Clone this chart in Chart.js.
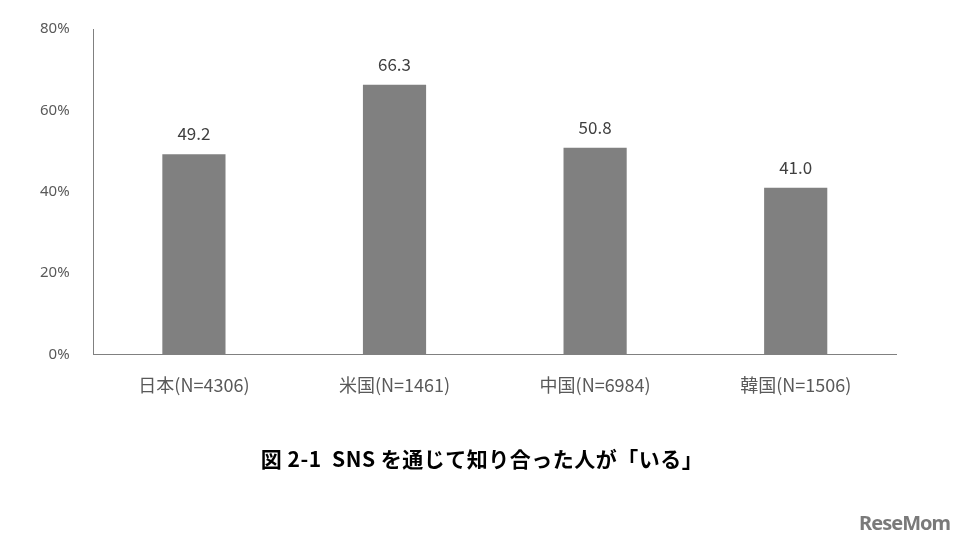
<!DOCTYPE html>
<html><head><meta charset="utf-8">
<script src="https://cdn.jsdelivr.net/npm/chart.js@4"></script>
<style>body{margin:0;background:#fff}#w{position:relative;width:964px;height:546px}
#wm{position:absolute;right:14px;bottom:10px;font:bold 20px "Noto Sans";color:#7a7a7a;letter-spacing:-1px}
#t{position:absolute;left:0;width:964px;top:443px;text-align:center;white-space:pre;font:bold 21px "Noto Sans CJK JP";color:#000;letter-spacing:0.5px}</style>
</head><body><div id="w"><canvas id="c" width="964" height="546"></canvas><div id="t"></div><div id="wm">ReseMom</div></div>
<script>
const categories=["日本(N=4306)","米国(N=1461)","中国(N=6984)","韓国(N=1506)"];
const values=[49.2,66.3,50.8,41.0];
const titleText="図 2-1  SNS を通じて知り合った人が「いる」";
document.getElementById('t').textContent=titleText;
const labelPlugin={id:'lbl',afterDatasetsDraw(ch){const ctx=ch.ctx;const m=ch.getDatasetMeta(0);
ctx.save();ctx.font='17px "Noto Sans CJK JP"';ctx.fillStyle='#404040';ctx.textAlign='center';ctx.textBaseline='bottom';
m.data.forEach((b,i)=>ctx.fillText(values[i].toFixed(1),b.x,b.y-12));ctx.restore();}};
new Chart(document.getElementById('c'),{type:'bar',
data:{labels:categories,datasets:[{data:values,backgroundColor:'#808080',categoryPercentage:1,barPercentage:0.315}]},
options:{responsive:false,animation:false,
layout:{padding:{left:24,right:68,top:29,bottom:138}},
plugins:{legend:{display:false},tooltip:{enabled:false}},
scales:{x:{grid:{display:false},border:{color:'#808080'},ticks:{color:'#595959',font:{family:'"Noto Sans CJK JP"',size:18},padding:12}},
y:{min:0,max:80,grid:{display:false},border:{color:'#808080'},ticks:{stepSize:20,color:'#595959',padding:16,font:{family:'"Noto Sans"',size:15},callback:v=>v+'%'}}}},
plugins:[labelPlugin]});
</script></body></html>
